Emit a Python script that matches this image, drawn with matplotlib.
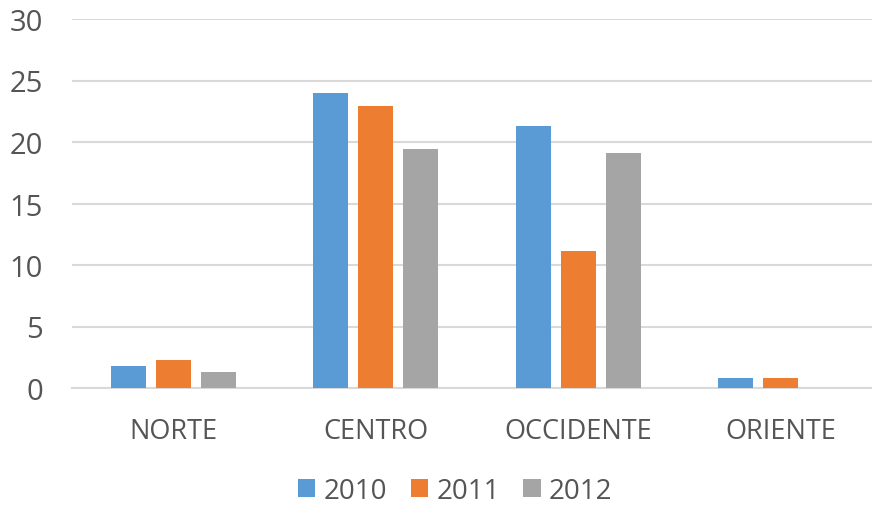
import matplotlib.pyplot as plt
import numpy as np

regions = ['NORTE', 'CENTRO', 'OCCIDENTE', 'ORIENTE']
years = ['2010', '2011', '2012']
v2010 = [1.8, 24.0, 21.3, 0.8]
v2011 = [2.3, 22.9, 11.1, 0.8]
v2012 = [1.3, 19.4, 19.1, 0.0]
colors = ['#5B9BD5', '#ED7D31', '#A5A5A5']

plt.rcParams['font.family'] = ['Open Sans', 'DejaVu Sans']

fig = plt.figure(figsize=(8.72, 5.06), dpi=100)
ax = fig.add_axes([72/872, 117/506, 810/872, 369/506])

x = np.arange(len(regions))
w = 0.173
step = 0.222
for i, vals in enumerate([v2010, v2011, v2012]):
    ax.bar(x + (i - 1) * step, vals, width=w, color=colors[i],
           label=years[i], zorder=3)

ax.set_xlim(-0.5, 3.5)
ax.set_ylim(0, 30)
ax.set_yticks(range(0, 31, 5))
ax.set_xticks(x)
ax.set_xticklabels(regions)
ax.grid(axis='y', color='#D9D9D9', linewidth=1.5, zorder=0)
for s in ['top', 'right', 'left']:
    ax.spines[s].set_visible(False)
ax.spines['bottom'].set_color('#D9D9D9')
ax.spines['bottom'].set_linewidth(1.5)
ax.tick_params(axis='both', length=0, colors='#555555')
ax.tick_params(axis='y', pad=21, labelsize=21)
ax.tick_params(axis='x', pad=21, labelsize=19.5)

fig.legend(loc='center', bbox_to_anchor=(0.522, 0.028), ncol=3, frameon=False,
           fontsize=20, labelcolor='#555555', handlelength=0.62, handleheight=0.62,
           handletextpad=0.3, columnspacing=0.85, borderpad=0.0, borderaxespad=0.0)

fig.savefig('out.png', dpi=100)
